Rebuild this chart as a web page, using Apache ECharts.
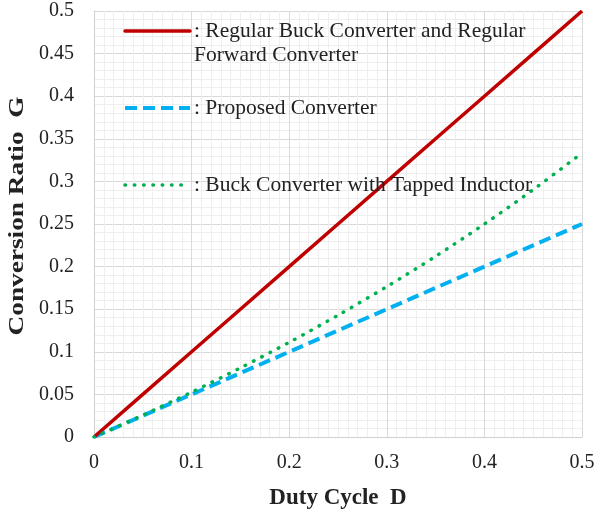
<!DOCTYPE html>
<html><head><meta charset="utf-8">
<script src="https://cdn.jsdelivr.net/npm/echarts@6/dist/echarts.min.js"></script>
<style>html,body{margin:0;padding:0;background:#fff}#c{width:595px;height:511px}</style>
</head><body><div id="c"></div>
<script>
const duty = [0, 0.05, 0.1, 0.15, 0.2, 0.25, 0.3, 0.35, 0.4, 0.45, 0.5];
const regular = [0, 0.05, 0.1, 0.15, 0.2, 0.25, 0.3, 0.35, 0.4, 0.45, 0.5];
const proposed = [0, 0.025, 0.05, 0.075, 0.1, 0.125, 0.15, 0.175, 0.2, 0.225, 0.25];
const tapped = [0, 0.0256, 0.0526, 0.0811, 0.1111, 0.1429, 0.1765, 0.2121, 0.25, 0.2903, 0.3333];
const seriesNames = [': Regular Buck Converter and Regular\nForward Converter', ': Proposed Converter', ': Buck Converter with Tapped Inductor'];
const xTitle = 'Duty Cycle  D';
const yTitle = 'Conversion Ratio  G';

const font = '"Liberation Serif","Times New Roman",serif';
const chart = echarts.init(document.getElementById('c'), null, {renderer: 'canvas'});
const pair = (ys) => duty.map((d, i) => [d, ys[i]]);
const colors = ['#c00000', '#00b0f0', '#00b050'];
const lineStyles = [
  {width: 3.5, type: 'solid', cap: 'round'},
  {width: 4, type: [12, 6], cap: 'butt'},
  {width: 3.5, type: [0.5, 8.8], cap: 'round'}
];
const legendY = [31, 108, 185];
const graphics = [];
seriesNames.forEach((n, i) => {
  const st = {stroke: colors[i], lineWidth: lineStyles[i].width, lineCap: lineStyles[i].cap};
  if (Array.isArray(lineStyles[i].type)) st.lineDash = lineStyles[i].type;
  graphics.push({type: 'line', z: 10, shape: {x1: 125, y1: legendY[i], x2: 190, y2: legendY[i]}, style: st});
  graphics.push({type: 'text', z: 10, x: 194, y: legendY[i] - 12,
    style: {text: n, fontSize: 21.5, fontFamily: font, fill: '#222', lineHeight: 24}});
});
graphics.push({type: 'text', z: 10, x: 18, y: 216, rotation: Math.PI / 2, scaleX: 1.3,
  style: {text: yTitle, fontSize: 21, fontWeight: 'bold', fontFamily: font, fill: '#222', align: 'center', verticalAlign: 'middle'}});

chart.setOption({
  animation: false,
  grid: {left: 94, top: 11, right: 13, bottom: 74, outerBoundsMode: 'none', containLabel: false},
  xAxis: {
    type: 'value', min: 0, max: 0.5, interval: 0.1,
    name: xTitle, nameLocation: 'middle', nameGap: 50,
    nameTextStyle: {fontFamily: font, fontWeight: 'bold', fontSize: 23, color: '#222'},
    axisLine: {show: true, lineStyle: {color: '#d0d0d0'}},
    axisTick: {show: false},
    axisLabel: {fontFamily: font, fontSize: 20, color: '#222', margin: 16,
      formatter: v => String(Math.round(v * 10) / 10)},
    splitLine: {show: true, lineStyle: {color: '#d9d9d9', width: 1}},
    minorTick: {show: false, splitNumber: 10},
    minorSplitLine: {show: true, lineStyle: {color: '#efefef', width: 1}}
  },
  yAxis: {
    type: 'value', min: 0, max: 0.5, interval: 0.05,
    axisLine: {show: true, lineStyle: {color: '#d0d0d0'}},
    axisTick: {show: false},
    axisLabel: {fontFamily: font, fontSize: 20, color: '#222', margin: 20,
      formatter: v => String(Math.round(v * 100) / 100)},
    splitLine: {show: true, lineStyle: {color: '#d9d9d9', width: 1}},
    minorTick: {show: false, splitNumber: 5},
    minorSplitLine: {show: true, lineStyle: {color: '#efefef', width: 1}}
  },
  series: [
    {name: 'regular', type: 'line', data: pair(regular), symbol: 'none', lineStyle: {color: colors[0], width: lineStyles[0].width, type: lineStyles[0].type}, z: 3},
    {name: 'proposed', type: 'line', data: pair(proposed), symbol: 'none', lineStyle: {color: colors[1], width: lineStyles[1].width, type: lineStyles[1].type}, z: 2},
    {name: 'tapped', type: 'line', data: pair(tapped), symbol: 'none', smooth: 0.3, lineStyle: {color: colors[2], width: lineStyles[2].width, type: lineStyles[2].type, cap: 'round'}, z: 4}
  ],
  graphic: graphics
});
</script></body></html>
